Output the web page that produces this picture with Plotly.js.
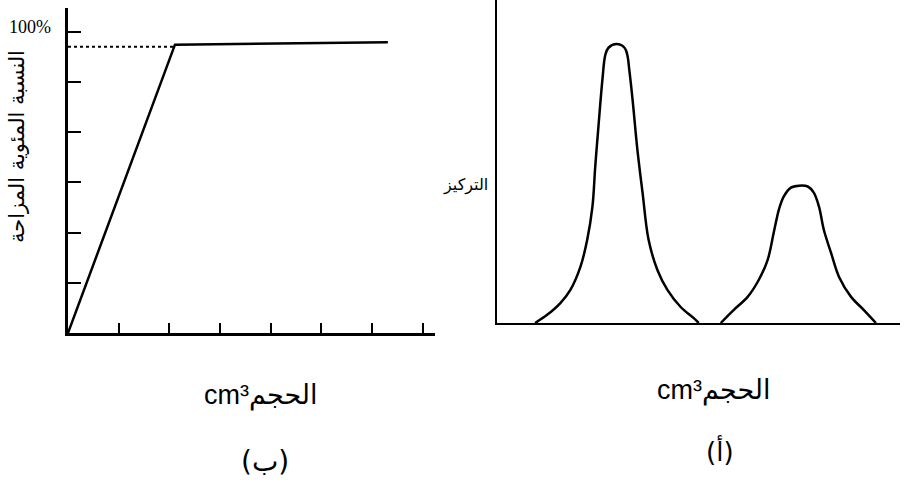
<!DOCTYPE html>
<html>
<head>
<meta charset="utf-8">
<script src="https://cdn.plot.ly/plotly-3.0.1.min.js"></script>
<style>html,body{margin:0;padding:0;background:#fff;}#chart{width:906px;height:487px;}</style>
</head>
<body>
<div id="chart"></div>
<script>
// Panel (ب): percentage displaced vs volume
const volB = [0, 2.11, 6.31];
const pctB = [0, 5.74, 5.79];
const dotVol = [0, 2.11];
const dotPct = [5.70, 5.70];
const tickB_x = [1, 2, 3, 4, 5, 6, 7];
const tickB_y = [1, 2, 3, 4, 5, 6];

// Panel (أ): concentration vs volume, two peaks
const peak1Vol = [0.95, 1.25, 1.58, 1.83, 2.08, 2.25, 2.38, 2.45, 2.53, 2.63, 2.70, 2.78, 2.98, 3.18, 3.25, 3.30, 3.38, 3.50, 3.63, 3.78, 4.00, 4.25, 4.58, 4.90, 5.03];
const peak1Conc = [0, 0.29, 0.71, 1.18, 2.00, 2.96, 4.14, 5.57, 7.00, 8.68, 9.54, 9.80, 9.93, 9.80, 9.54, 9.00, 7.96, 6.18, 4.64, 2.96, 1.89, 1.18, 0.57, 0.18, 0];
const peak2Vol = [5.58, 5.90, 6.25, 6.53, 6.75, 6.90, 7.03, 7.15, 7.33, 7.53, 7.75, 7.90, 8.03, 8.15, 8.33, 8.53, 8.83, 9.15, 9.45];
const peak2Conc = [0, 0.46, 0.93, 1.54, 2.25, 3.21, 4.04, 4.50, 4.82, 4.89, 4.86, 4.64, 4.14, 3.32, 2.50, 1.64, 0.93, 0.46, 0];

const label100 = "100%";
const yTitleB = "النسبة المئوية المزاحة";
const yTitleA = "التركيز";
const xTitle = "cm³الحجم";
const panelB = "(ب)";
const panelA = "(أ)";

const W = 906, H = 487;
const px = x => x / W;
const py = y => 1 - y / H;

const traces = [
  {x: dotVol, y: dotPct, xaxis: 'x', yaxis: 'y', mode: 'lines',
   line: {color: '#000', width: 2, dash: 'dot'}, hoverinfo: 'skip'},
  {x: volB, y: pctB, xaxis: 'x', yaxis: 'y', mode: 'lines',
   line: {color: '#000', width: 2.5}},
  {x: peak1Vol, y: peak1Conc, xaxis: 'x2', yaxis: 'y2', mode: 'lines',
   line: {color: '#000', width: 2.5, shape: 'spline', smoothing: 1}},
  {x: peak2Vol, y: peak2Conc, xaxis: 'x2', yaxis: 'y2', mode: 'lines',
   line: {color: '#000', width: 2.5, shape: 'spline', smoothing: 1}}
];

const axBase = {showgrid: false, zeroline: false, showline: true, linecolor: '#000',
  fixedrange: true, showticklabels: false};

const arFont = "DejaVu Sans, Noto Sans, sans-serif";
function ann(text, x, y, font, extra) {
  return Object.assign({text: text, xref: 'paper', yref: 'paper', x: px(x), y: py(y),
    xanchor: 'center', yanchor: 'middle', showarrow: false, font: font}, extra || {});
}
const layout = {
  width: W, height: H,
  margin: {l: 0, r: 0, t: 0, b: 0},
  paper_bgcolor: '#fff', plot_bgcolor: '#fff',
  showlegend: false,
  xaxis: Object.assign({}, axBase, {domain: [px(68), px(435)], range: [0, 7.24], anchor: 'y',
    linewidth: 3, ticks: 'inside', tickvals: tickB_x, ticklen: 10, tickwidth: 2, tickcolor: '#000'}),
  yaxis: Object.assign({}, axBase, {domain: [py(333), py(8)], range: [0, 6.47], anchor: 'x',
    linewidth: 3, ticks: 'inside', tickvals: tickB_y, ticklen: 13, tickwidth: 2, tickcolor: '#000'}),
  xaxis2: Object.assign({}, axBase, {domain: [px(497), px(900)], range: [0, 10.05], anchor: 'y2',
    linewidth: 2, ticks: ''}),
  yaxis2: Object.assign({}, axBase, {domain: [py(323), 1], range: [0, 11.5], anchor: 'x2',
    linewidth: 2, ticks: ''}),
  annotations: [
    ann(label100, 30, 27, {family: 'Liberation Serif, serif', size: 18, color: '#000'}),
    ann(yTitleB, 17, 147, {family: arFont, size: 21, color: '#000'}, {textangle: -90}),
    ann(yTitleA, 466, 185, {family: arFont, size: 16, color: '#000'}),
    ann(xTitle, 261, 395, {family: 'Liberation Sans, DejaVu Sans, sans-serif', size: 27, color: '#000'}),
    ann(xTitle, 714, 390, {family: 'Liberation Sans, DejaVu Sans, sans-serif', size: 27, color: '#000'}),
    ann(panelB, 265, 461, {family: arFont, size: 28, color: '#000'}),
    ann(panelA, 720, 450, {family: arFont, size: 26, color: '#000'})
  ]
};

Plotly.newPlot('chart', traces, layout, {staticPlot: true, displayModeBar: false});
</script>
</body>
</html>
